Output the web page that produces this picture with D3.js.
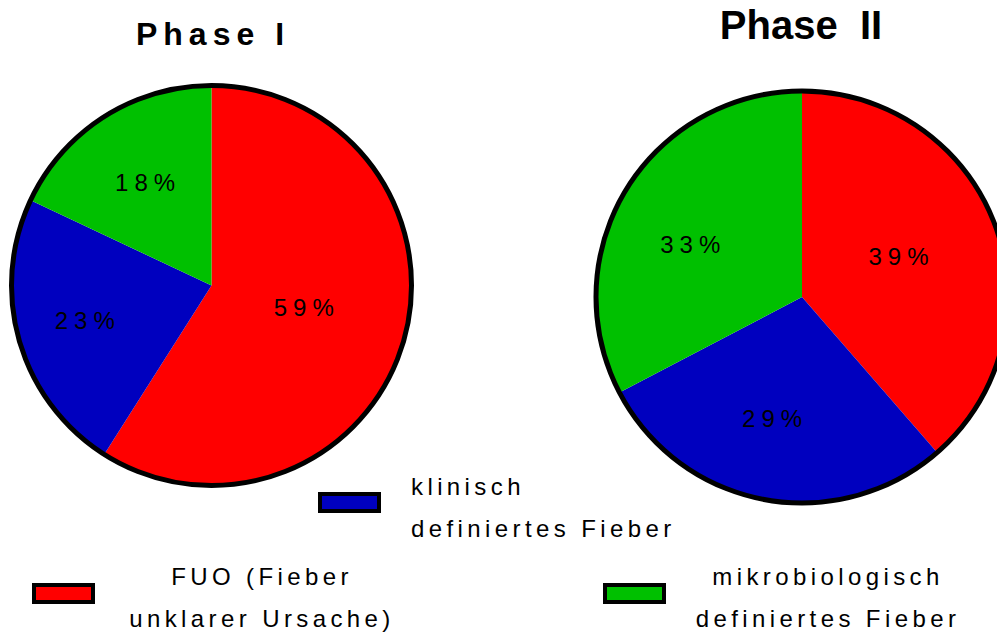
<!DOCTYPE html>
<html>
<head>
<meta charset="utf-8">
<script src="https://cdn.jsdelivr.net/npm/d3@7"></script>
<style>
  body { margin: 0; background: #fff; }
  svg { display: block; font-family: "Liberation Sans", Arial, sans-serif; }
</style>
</head>
<body>
<script>
// data
const categories = ["FUO (Fieber unklarer Ursache)", "klinisch definiertes Fieber", "mikrobiologisch definiertes Fieber"];
const phase1Values = [59, 23, 18];
const phase2Values = [39, 29, 33];
const titles = ["Phase I", "Phase  II"];

const colors = ["#ff0000", "#0000bf", "#00c000"];

const width = 997, height = 635;

const svg = d3.select("body").append("svg")
    .attr("width", width)
    .attr("height", height);

const color = d3.scaleOrdinal()
    .domain(categories)
    .range(colors);

const pie = d3.pie()
    .sort(null)
    .value(d => d.value);

// layout for the two pies (label nudges in px)
const pies = [
    { values: phase1Values, cx: 211.5, cy: 285.5, r: 200, labelR: [0.47, 0.66, 0.62], nudge: [[2, -4], [0, -2], [0, 2]] },
    { values: phase2Values, cx: 802, cy: 297, r: 206, labelR: [0.5, 0.6, 0.6], nudge: [[0, -5], [-7, 0], [-6, 11]] }
];

pies.forEach((p, k) => {
    const g = svg.append("g")
        .attr("transform", "translate(" + p.cx + "," + p.cy + ")");

    const arc = d3.arc().innerRadius(0).outerRadius(p.r);
    const arcs = pie(categories.map((c, i) => ({ cat: c, value: p.values[i] })));

    g.selectAll("path.slice")
        .data(arcs)
        .enter().append("path")
        .attr("class", "slice")
        .attr("d", arc)
        .attr("fill", d => color(d.data.cat));

    g.append("circle")
        .attr("r", p.r)
        .attr("fill", "none")
        .attr("stroke", "#000")
        .attr("stroke-width", 5);

    g.selectAll("text.pct")
        .data(arcs)
        .enter().append("text")
        .attr("class", "pct")
        .attr("transform", (d, i) => {
            const lr = d3.arc().innerRadius(p.r * p.labelR[i] * 2).outerRadius(0);
            const c = lr.centroid(d);
            return "translate(" + (c[0] + p.nudge[i][0]) + "," + (c[1] + p.nudge[i][1]) + ")";
        })
        .attr("text-anchor", "middle")
        .attr("dy", "0.36em")
        .attr("dx", 3)
        .style("font-size", "24px")
        .style("letter-spacing", "6px")
        .text(d => d.data.value + "%");
});

// titles
svg.append("text")
    .attr("x", 213)
    .attr("y", 45)
    .attr("text-anchor", "middle")
    .style("font-size", "32px")
    .style("font-weight", "bold")
    .style("letter-spacing", "6px")
    .text(titles[0]);

svg.append("text")
    .attr("x", 801)
    .attr("y", 39)
    .attr("text-anchor", "middle")
    .attr("xml:space", "preserve")
    .style("white-space", "pre")
    .style("font-size", "40px")
    .style("font-weight", "bold")
    .text(titles[1]);

// legend
const legend = [
    { sx: 34, sy: 585, tx: 262, ty: 585, anchor: "middle", lines: ["FUO (Fieber", "unklarer Ursache)"] },
    { sx: 320, sy: 494, tx: 411, ty: 495, anchor: "start", lines: ["klinisch", "definiertes Fieber"] },
    { sx: 605, sy: 585, tx: 828, ty: 585, anchor: "middle", lines: ["mikrobiologisch", "definiertes Fieber"] }
];

legend.forEach((l, i) => {
    svg.append("rect")
        .attr("x", l.sx)
        .attr("y", l.sy)
        .attr("width", 59)
        .attr("height", 17)
        .attr("fill", color(categories[i]))
        .attr("stroke", "#000")
        .attr("stroke-width", 4);

    const t = svg.append("text")
        .attr("x", l.tx)
        .attr("y", l.ty)
        .attr("text-anchor", l.anchor)
        .style("font-size", "24px")
        .style("letter-spacing", "4.4px");

    t.selectAll("tspan")
        .data(l.lines)
        .enter().append("tspan")
        .attr("x", l.tx)
        .attr("dy", (d, j) => j === 0 ? 0 : 42)
        .text(d => d);
});
</script>
</body>
</html>
